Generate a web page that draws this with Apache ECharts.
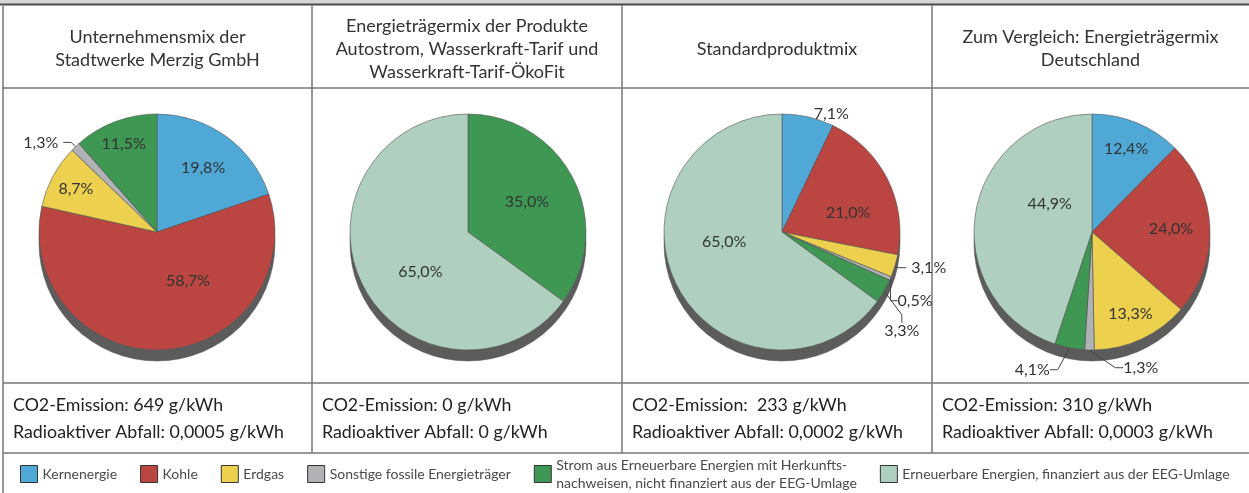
<!DOCTYPE html>
<html>
<head>
<meta charset="utf-8">
<script src="https://cdn.jsdelivr.net/npm/echarts@6.0.0/dist/echarts.min.js"></script>
<style>
  html, body { margin: 0; padding: 0; background: #fff; }
  #main { width: 1249px; height: 493px; }
</style>
</head>
<body>
<div id="main"></div>
<script>
// Energieträger (Reihenfolge = Legende = Reihenfolge im Kreis, im Uhrzeigersinn ab 12 Uhr)
var categories = [
  'Kernenergie',
  'Kohle',
  'Erdgas',
  'Sonstige fossile Energieträger',
  'Strom aus Erneuerbare Energien mit Herkunftsnachweisen, nicht finanziert aus der EEG-Umlage',
  'Erneuerbare Energien, finanziert aus der EEG-Umlage'
];
var colors = ['#4fa8d6', '#bb4541', '#ecd04e', '#b0b2b5', '#3e9753', '#afd0be'];

var titles = [
  'Unternehmensmix der\nStadtwerke Merzig GmbH',
  'Energieträgermix der Produkte\nAutostrom, Wasserkraft-Tarif und\nWasserkraft-Tarif-ÖkoFit',
  'Standardproduktmix',
  'Zum Vergleich: Energieträgermix\nDeutschland'
];

// Anteile in %
var mixUnternehmen = [19.8, 58.7, 8.7, 1.3, 11.5, 0];
var mixProdukte = [0, 0, 0, 0, 35.0, 65.0];
var mixStandard = [7.1, 21.0, 3.1, 0.5, 3.3, 65.0];
var mixDeutschland = [12.4, 24.0, 13.3, 1.3, 4.1, 44.9];
var mixes = [mixUnternehmen, mixProdukte, mixStandard, mixDeutschland];

var co2Werte = ['649', '0', ' 233', '310'];
var abfallWerte = ['0,0005', '0', '0,0002', '0,0003'];

// welche Beschriftungen außen stehen, wie weit innen die übrigen sitzen
var outsideLabels = [[3], [], [0, 2, 3, 4], [3, 4]];
var labelRadius = [
  [0.67, 0.48, 0.78, 0, 0.8, 0],
  [0, 0, 0, 0, 0.56, 0.52],
  [0, 0.58, 0, 0, 0, 0.55],
  [0.76, 0.67, 0.77, 0, 0, 0.5]
];
// kleine Verschiebungen der Beschriftungen (Kreis-Kategorie: [dx, dy])
var labelNudge = {
  '0-1': [28, -8],
  '1-5': [7, 12],
  '2-1': [5, 12],
  '2-5': [0, -20],
  '2-3': [-10, 15],
  '2-4': [-18, 27],
  '3-5': [16, -19],
  '3-3': [82, -4],
  '3-4': [27, 16]
};

var colX = [3, 312, 622, 932, 1249];
var pieCx = [157, 468, 782, 1092];
var pieCy = 232, pieR = 118;
var font = 'Lato, "Open Sans", sans-serif';

function fmt(v) { return v.toFixed(1).replace('.', ',') + '%'; }

var chart = echarts.init(document.getElementById('main'));

var series = [];
mixes.forEach(function (mix, p) {
  var items = [];
  var total = mix.reduce(function (a, b) { return a + b; }, 0);
  var acc = 0;
  mix.forEach(function (v, i) {
    if (v <= 0) return;
    var mid = (acc + v / 2) / total * 360;
    acc += v;
    var out = outsideLabels[p].indexOf(i) >= 0;
    var item = {
      name: categories[i],
      value: v,
      cat: i,
      mid: mid,
      itemStyle: { color: colors[i] },
      label: { position: out ? 'outside' : 'inside' }
    };
    if (p === 2 && i === 0) item.labelLine = { show: false, length: 3, length2: 0 };
    items.push(item);
  });

  // dunkler Rand unten (3D-Anmutung)
  series.push({
    type: 'pie',
    silent: true,
    center: [pieCx[p], pieCy + 11],
    radius: pieR,
    z: 1,
    label: { show: false },
    labelLine: { show: false },
    itemStyle: { color: '#5c5c5c', borderColor: '#555', borderWidth: 0.5 },
    data: [{ value: 1, name: '' }],
    legendHoverLink: false
  });

  series.push({
    type: 'pie',
    center: [pieCx[p], pieCy],
    radius: pieR,
    z: 2,
    startAngle: 90,
    clockwise: true,
    emphasis: { scale: false },
    itemStyle: { borderColor: '#555', borderWidth: 0.6 },
    label: {
      color: '#333',
      fontFamily: font,
      fontSize: 16,
      formatter: function (d) { return fmt(d.value); }
    },
    labelLine: { length: 6, length2: 8, lineStyle: { color: '#444', width: 1 } },
    labelLayout: function (prm) {
      var d = items[prm.dataIndex];
      var k = labelRadius[p][d.cat];
      var n = labelNudge[p + '-' + d.cat] || [0, 0];
      if (!k) {
        if (!labelNudge[p + '-' + d.cat]) return {};
        var r = prm.labelRect;
        return {
          x: r.x + r.width / 2 + n[0],
          y: r.y + r.height / 2 + n[1],
          align: 'center',
          verticalAlign: 'middle'
        };
      }
      var a = d.mid * Math.PI / 180;
      return {
        x: pieCx[p] + k * pieR * Math.sin(a) + n[0],
        y: pieCy - k * pieR * Math.cos(a) + n[1],
        align: 'center',
        verticalAlign: 'middle'
      };
    },
    data: items
  });
});

// Tabellenraster und Texte
var graphics = [
  { type: 'rect', shape: { x: 0, y: 0, width: 1249, height: 4 }, style: { fill: '#d6d6d6' }, silent: true },
  { type: 'line', shape: { x1: 0, y1: 4.5, x2: 1249, y2: 4.5 }, style: { stroke: '#4a4a4a', lineWidth: 2 }, silent: true },
  { type: 'line', shape: { x1: 3, y1: 4, x2: 3, y2: 493 }, style: { stroke: '#777', lineWidth: 1.5 }, silent: true }
];
[88, 383, 453].forEach(function (y) {
  graphics.push({ type: 'line', shape: { x1: 3, y1: y, x2: 1249, y2: y }, style: { stroke: '#777', lineWidth: 1.5 }, silent: true });
});
[1, 2, 3].forEach(function (c) {
  graphics.push({ type: 'line', shape: { x1: colX[c], y1: 5, x2: colX[c], y2: 453 }, style: { stroke: '#777', lineWidth: 1.5 }, silent: true });
});
titles.forEach(function (t, c) {
  graphics.push({
    type: 'text', silent: true,
    x: (colX[c] + colX[c + 1]) / 2, y: 49,
    style: { text: t, fill: '#333', font: '18px ' + font, textAlign: 'center', textVerticalAlign: 'middle', lineHeight: 23 }
  });
  graphics.push({
    type: 'text', silent: true,
    x: colX[c] + 10, y: 419,
    style: {
      text: 'CO2-Emission: ' + co2Werte[c] + ' g/kWh\nRadioaktiver Abfall: ' + abfallWerte[c] + ' g/kWh',
      fill: '#222', font: '17.8px ' + font, textAlign: 'left', textVerticalAlign: 'middle', lineHeight: 27
    }
  });
});

chart.setOption({
  animation: false,
  color: colors,
  legend: {
    data: categories,
    left: 15,
    top: 451,
    width: 1240,
    orient: 'horizontal',
    icon: 'rect',
    itemWidth: 17,
    itemHeight: 17,
    itemGap: 23,
    selectedMode: false,
    itemStyle: { borderColor: '#333', borderWidth: 1 },
    textStyle: { fontFamily: font, fontSize: 14, color: '#4a4a4a', lineHeight: 18 },
    formatter: function (name) {
      return name === categories[4]
        ? 'Strom aus Erneuerbare Energien mit Herkunfts-\nnachweisen, nicht finanziert aus der EEG-Umlage'
        : name;
    }
  },
  graphic: graphics,
  series: series
});
</script>
</body>
</html>
